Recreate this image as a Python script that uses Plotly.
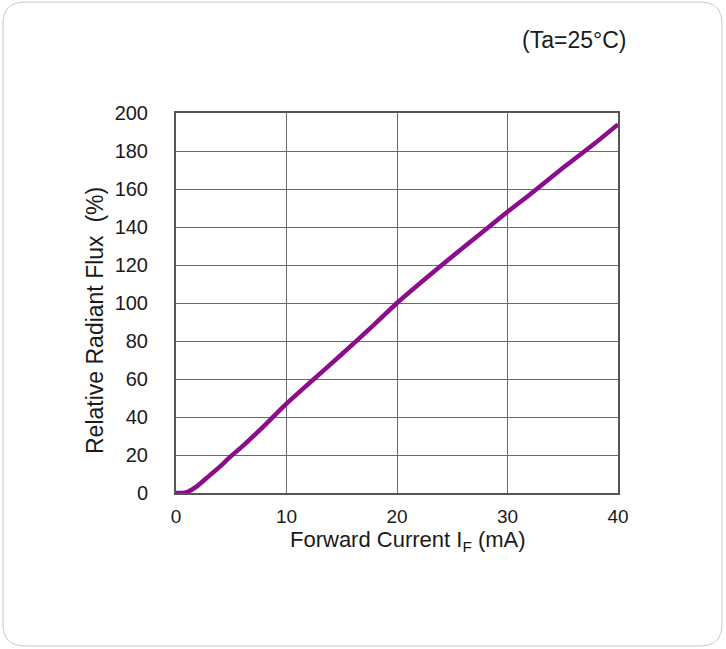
import plotly.graph_objects as go

current_ma = [0, 0.5, 1, 1.5, 2, 3, 4, 5, 6, 8, 10, 12, 15, 18, 20, 22, 25, 28, 30, 32, 35, 38, 40]
flux_pct = [0, 0, 0.5, 2, 4, 9, 14, 19.5, 24.5, 35.5, 47, 57.5, 73, 89, 100, 110, 124.5, 138.5, 148, 157, 171, 184.5, 194]

x_ticks = [0, 10, 20, 30, 40]
y_ticks = [0, 20, 40, 60, 80, 100, 120, 140, 160, 180, 200]

x_title = "Forward Current I<sub>F</sub> (mA)"
y_title = "Relative Radiant Flux  (%)"
note = "(Ta=25°C)"

W, H = 726, 649
L, R, T, B = 176, 618, 113, 493
pw, ph = R - L, B - T

def px(x):
    return (x - L) / pw

def py(y):
    return (B - y) / ph

# rounded card border path in paper coords
x0, x1, y0, y1, r = 3, 722, 2, 646, 22
pts = [
    f"M {px(x0 + r)} {py(y0)}",
    f"L {px(x1 - r)} {py(y0)}",
    f"Q {px(x1)} {py(y0)} {px(x1)} {py(y0 + r)}",
    f"L {px(x1)} {py(y1 - r)}",
    f"Q {px(x1)} {py(y1)} {px(x1 - r)} {py(y1)}",
    f"L {px(x0 + r)} {py(y1)}",
    f"Q {px(x0)} {py(y1)} {px(x0)} {py(y1 - r)}",
    f"L {px(x0)} {py(y0 + r)}",
    f"Q {px(x0)} {py(y0)} {px(x0 + r)} {py(y0)}",
    "Z",
]

fig = go.Figure()
fig.add_trace(go.Scatter(
    x=current_ma, y=flux_pct, mode="lines",
    line=dict(color="#8B0D8B", width=4.5, shape="spline", smoothing=0.6),
    showlegend=False, hoverinfo="skip",
))

font = dict(family="Liberation Sans, Arial, sans-serif", color="#1a1a1a")

fig.update_layout(
    width=W, height=H,
    margin=dict(l=L, r=W - R, t=T, b=H - B),
    paper_bgcolor="white", plot_bgcolor="white",
    font=dict(**font, size=20),
    xaxis=dict(
        range=[0, 40], tickvals=x_ticks, showgrid=True, gridcolor="#6a6a6a", gridwidth=1,
        showline=True, linecolor="#555555", linewidth=2, mirror=True, zeroline=False,
        ticks="", ticklabelstandoff=5, tickfont=dict(size=19),
    ),
    yaxis=dict(
        range=[0, 200], tickvals=y_ticks, showgrid=True, gridcolor="#6a6a6a", gridwidth=1,
        showline=True, linecolor="#555555", linewidth=2, mirror=True, zeroline=False,
        ticks="", ticklabelstandoff=22, tickfont=dict(size=20),
    ),
    shapes=[dict(type="path", xref="paper", yref="paper", path=" ".join(pts),
                 line=dict(color="#c8c8c8", width=1), layer="below")],
    annotations=[
        dict(text=note, xref="paper", yref="paper", x=px(574), y=py(40),
             showarrow=False, font=dict(size=23, **font), xanchor="center", yanchor="middle"),
        dict(text=x_title, xref="paper", yref="paper", x=px(408), y=py(557),
             showarrow=False, font=dict(size=22, **font), xanchor="center", yanchor="bottom"),
        dict(text=y_title, xref="paper", yref="paper", x=px(95), y=py(321), textangle=-90,
             showarrow=False, font=dict(size=23, **font), xanchor="center", yanchor="middle"),
    ],
)

fig.write_html("out.html", config={"displayModeBar": False},
               post_script="document.body.style.margin='0';")
